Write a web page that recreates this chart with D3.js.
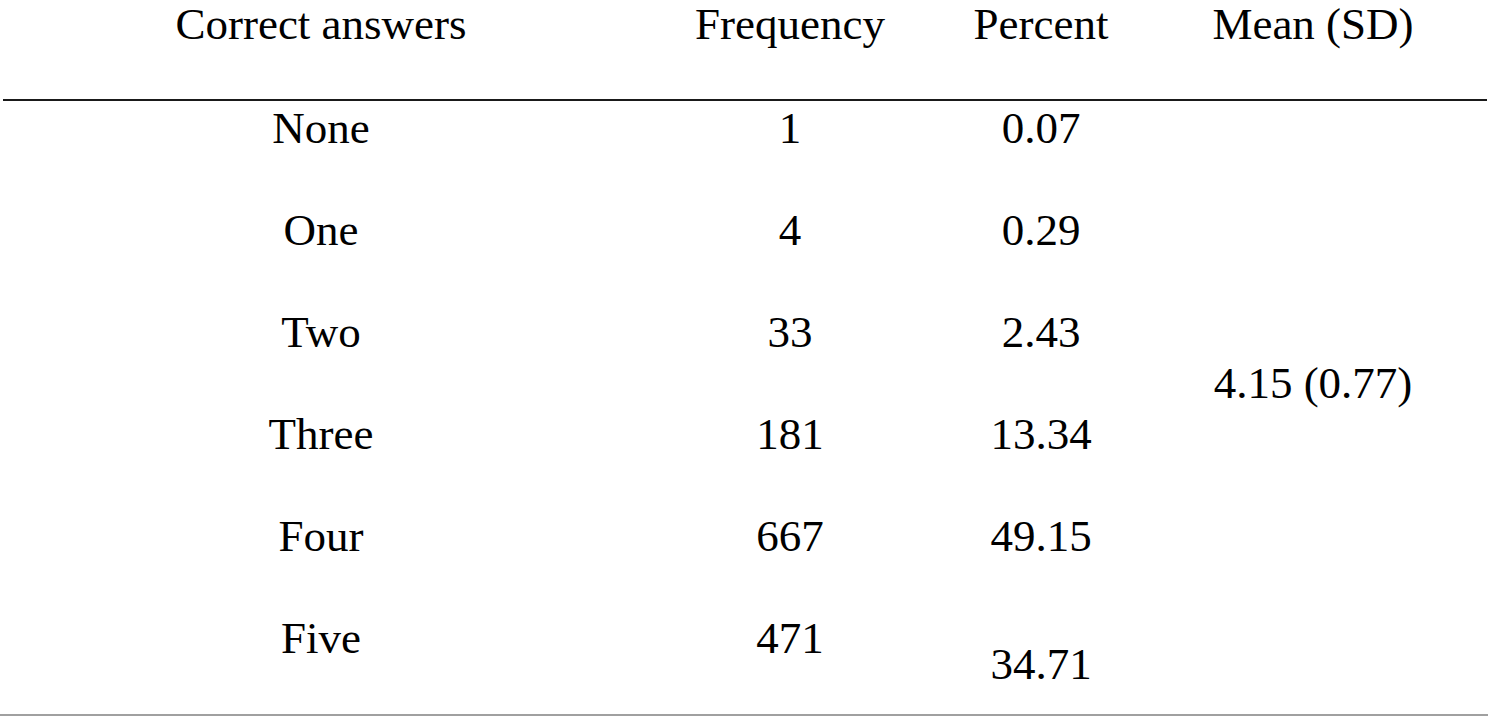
<!DOCTYPE html>
<html>
<head>
<meta charset="utf-8">
<script src="https://cdn.jsdelivr.net/npm/d3@7"></script>
<style>
  html, body { margin: 0; padding: 0; background: #ffffff; }
  svg { display: block; }
  text { font-family: "Liberation Serif", "Times New Roman", serif; fill: #000; }
</style>
</head>
<body>
<div id="chart"></div>
<script>
// ---- data ----
const headers = ["Correct answers", "Frequency", "Percent", "Mean (SD)"];
const categories = ["None", "One", "Two", "Three", "Four", "Five"];
const frequency = [1, 4, 33, 181, 667, 471];
const percent = [0.07, 0.29, 2.43, 13.34, 49.15, 34.71];
const meanSD = "4.15 (0.77)";

// ---- layout ----
const W = 1492, H = 719;
const svg = d3.select("#chart").append("svg").attr("width", W).attr("height", H);

const x = d3.scaleOrdinal().domain(headers).range([321, 790, 1041, 1313]);
const y = d3.scalePoint().domain(categories).range([143, 653]);
const fs = 45;

// header
svg.append("g").selectAll("text").data(headers).join("text")
  .attr("x", d => x(d)).attr("y", 39)
  .attr("text-anchor", "middle").attr("font-size", fs)
  .text(d => d);

// rules
svg.append("line").attr("x1", 3).attr("x2", 1487).attr("y1", 100).attr("y2", 100)
  .attr("stroke", "#1a1a1a").attr("stroke-width", 2);
svg.append("line").attr("x1", 0).attr("x2", 1488).attr("y1", 715).attr("y2", 715)
  .attr("stroke", "#808080").attr("stroke-width", 1.6);

// rows
const rows = categories.map((c, i) => ({ c, f: frequency[i], p: percent[i], i }));
const pctOffset = (d) => d.i === categories.length - 1 ? 26 : 0;

svg.append("g").selectAll("text").data(rows).join("text")
  .attr("x", x(headers[0])).attr("y", d => y(d.c))
  .attr("text-anchor", "middle").attr("font-size", fs).text(d => d.c);

svg.append("g").selectAll("text").data(rows).join("text")
  .attr("x", x(headers[1])).attr("y", d => y(d.c))
  .attr("text-anchor", "middle").attr("font-size", fs).text(d => d3.format("d")(d.f));

svg.append("g").selectAll("text").data(rows).join("text")
  .attr("x", x(headers[2])).attr("y", d => y(d.c) + pctOffset(d))
  .attr("text-anchor", "middle").attr("font-size", fs).text(d => d3.format(".2f")(d.p));

svg.append("text")
  .attr("x", x(headers[3])).attr("y", (y(categories[0]) + y(categories[categories.length - 1])) / 2)
  .attr("text-anchor", "middle").attr("font-size", fs)
  .text(meanSD);
</script>
</body>
</html>
